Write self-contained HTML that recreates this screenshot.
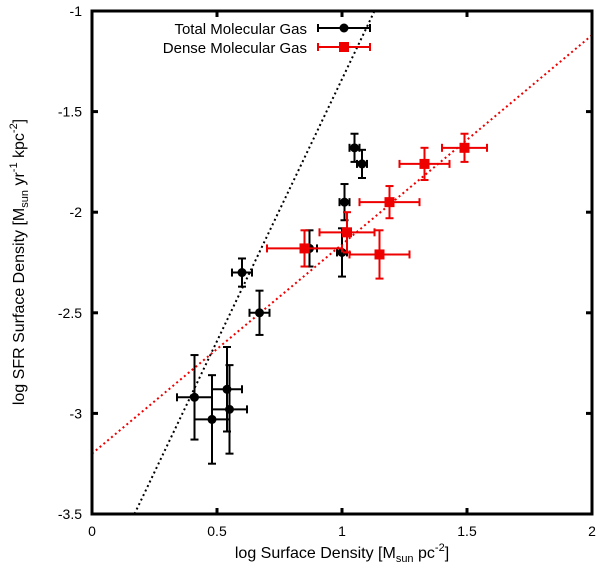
<!DOCTYPE html>
<html><head><meta charset="utf-8"><style>
body{margin:0;background:#fff;}
svg text{font-family:"Liberation Sans",sans-serif;fill:#000;}
</style></head><body>
<svg id="chart" width="600" height="570" xmlns="http://www.w3.org/2000/svg"></svg>
<script>
const xTicks=[0,0.5,1,1.5,2];
const yTicks=[-1,-1.5,-2,-2.5,-3,-3.5];
const totalX=[0.41,0.48,0.54,0.55,0.60,0.67,0.87,1.00,1.01,1.05,1.08];
const totalY=[-2.92,-3.03,-2.88,-2.98,-2.30,-2.50,-2.18,-2.20,-1.95,-1.68,-1.76];
const totalXErr=[0.07,0.07,0.06,0.07,0.04,0.04,0.03,0.02,0.02,0.02,0.02];
const totalYErr=[0.21,0.22,0.21,0.22,0.07,0.11,0.09,0.12,0.09,0.07,0.07];
const denseX=[0.85,1.02,1.15,1.19,1.33,1.49];
const denseY=[-2.18,-2.10,-2.21,-1.95,-1.76,-1.68];
const denseXErr=[0.15,0.11,0.12,0.12,0.10,0.09];
const denseYErr=[0.09,0.10,0.12,0.08,0.08,0.07];
const totalFit=[[0.17,-3.5],[1.13,-1.0]];
const denseFit=[[0,-3.2],[2,-1.12]];

const L=92,R=592,T=11,B=514;
const sx=v=>L+(v-0)/2*(R-L);
const sy=v=>T+(-1-v)/2.5*(B-T);
const svg=document.getElementById('chart');
const NS='http://www.w3.org/2000/svg';
function mk(tag,attrs,parent){const e=document.createElementNS(NS,tag);for(const k in attrs)e.setAttribute(k,attrs[k]);(parent||svg).appendChild(e);return e;}

// ticks
xTicks.forEach(v=>{
  const t=mk('line',{x1:sx(v),x2:sx(v),y1:B,y2:B-6,stroke:'#000','stroke-width':3});
  
  
  mk('line',{x1:sx(v),x2:sx(v),y1:T,y2:T+6,stroke:'#000','stroke-width':3});
  const l=mk('text',{x:sx(v),y:B+22,'text-anchor':'middle','font-size':14});
  l.textContent=String(v);
  
  
});
yTicks.forEach(v=>{
  const t=mk('line',{x1:L,x2:L+6,y1:sy(v),y2:sy(v),stroke:'#000','stroke-width':3});
  
  
  mk('line',{x1:R,x2:R-6,y1:sy(v),y2:sy(v),stroke:'#000','stroke-width':3});
  const l=mk('text',{x:L-10,y:sy(v)+5,'text-anchor':'end','font-size':14});
  l.textContent=String(v);
  
  
});

// fit lines
function fit(p,color,name){
  const e=mk('line',{x1:sx(p[0][0]),y1:sy(p[0][1]),x2:sx(p[1][0]),y2:sy(p[1][1]),stroke:color,'stroke-width':2,'stroke-dasharray':'2,3'});
  
  
}
fit(totalFit,'#000','total-fit-line');
fit(denseFit,'#e00','dense-fit-line');

function series(xs,ys,xe,ye,color,shape,name){
  xs.forEach((x,i)=>{
    const g=mk('g',{stroke:color,'stroke-width':2,fill:color});
    
    
    const cx=sx(x),cy=sy(ys[i]),x1=sx(x-xe[i]),x2=sx(x+xe[i]),y1=sy(ys[i]+ye[i]),y2=sy(ys[i]-ye[i]);
    mk('line',{x1:x1,x2:x2,y1:cy,y2:cy},g);
    mk('line',{x1:cx,x2:cx,y1:y1,y2:y2},g);
    mk('line',{x1:x1,x2:x1,y1:cy-4,y2:cy+4},g);
    mk('line',{x1:x2,x2:x2,y1:cy-4,y2:cy+4},g);
    mk('line',{x1:cx-4,x2:cx+4,y1:y1,y2:y1},g);
    mk('line',{x1:cx-4,x2:cx+4,y1:y2,y2:y2},g);
    if(shape==='c') mk('circle',{cx:cx,cy:cy,r:4.5,stroke:'none'},g);
    else mk('rect',{x:cx-5,y:cy-5,width:10,height:10,stroke:'none'},g);
  });
}
series(totalX,totalY,totalXErr,totalYErr,'#000','c','total-gas-point');
series(denseX,denseY,denseXErr,denseYErr,'#e00','s','dense-gas-point');

// frame
const f=mk('rect',{x:L,y:T,width:R-L,height:B-T,fill:'none',stroke:'#000','stroke-width':3});


</script>
<svg style="position:absolute;left:0;top:0" width="600" height="570" xmlns="http://www.w3.org/2000/svg">
<g font-family="Liberation Sans, sans-serif" font-size="15">
  <text x="307" y="34" text-anchor="end">Total Molecular Gas</text>
  <g stroke="#000" stroke-width="2">
    <line x1="318" x2="370" y1="28" y2="28"/><line x1="318" x2="318" y1="24" y2="32"/><line x1="370" x2="370" y1="24" y2="32"/>
    <circle cx="344" cy="28" r="4.5" fill="#000" stroke="none"/>
  </g>
  <text x="307" y="53" text-anchor="end">Dense Molecular Gas</text>
  <g stroke="#e00" stroke-width="2">
    <line x1="318" x2="370" y1="47" y2="47"/><line x1="318" x2="318" y1="43" y2="51"/><line x1="370" x2="370" y1="43" y2="51"/>
    <rect x="339" y="42" width="10" height="10" fill="#e00" stroke="none"/>
  </g>
  <text x="342" y="558" text-anchor="middle" font-size="16">log Surface Density [M<tspan font-size="11" dy="4">sun</tspan><tspan dy="-4"> pc</tspan><tspan font-size="11" dy="-7">-2</tspan><tspan dy="7">]</tspan></text>
  <text transform="translate(24,262) rotate(-90)" text-anchor="middle" font-size="16">log SFR Surface Density [M<tspan font-size="11" dy="4">sun</tspan><tspan dy="-4">  yr</tspan><tspan font-size="11" dy="-7">-1</tspan><tspan dy="7"> kpc</tspan><tspan font-size="11" dy="-7">-2</tspan><tspan dy="7">]</tspan></text>
</g>
</svg>
</body></html>
